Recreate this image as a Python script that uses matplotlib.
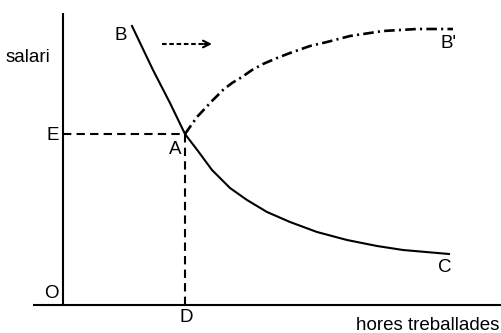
import matplotlib
matplotlib.use('Agg')
import matplotlib.pyplot as plt

# corba B-A-C (ofertа de treball inicial), coordenades de l'esquema
demand_x = [69, 90, 107, 122, 135, 149, 167, 184, 204, 227, 254, 284, 314, 340, 386]
demand_y = [279, 235, 202, 171, 154, 135, 117, 105, 93, 83, 73, 65, 59, 55, 51]

# corba A-B' (traç i punt)
shift_x = [122, 134, 149, 160, 169, 179, 189, 200, 214, 227, 247, 264, 287, 320, 354, 390]
shift_y = [171, 188, 204, 215, 222, 228, 235, 241, 247, 252, 259, 263, 269, 274, 276, 276]

point_a = (122, 171)
arrow_x = [99, 149]
arrow_y = [261, 261]

labels = ['salari', 'B', 'E', 'A', 'O', 'D', 'C', "B'", 'hores treballades']

plt.rcParams['font.family'] = ['Liberation Sans', 'DejaVu Sans']

fig = plt.figure(figsize=(5.01, 3.33), dpi=100)
ax = fig.add_axes([0, 0, 1, 1])
ax.set_xlim(-63, 438)
ax.set_ylim(-28, 305)
ax.axis('off')

lw = 1.5
# eixos
ax.plot([0, 0], [0, 292], color='black', lw=lw, solid_capstyle='butt')
ax.plot([-30, 438], [0, 0], color='black', lw=lw, solid_capstyle='butt')

# linies de referencia E-A i A-D
ax.plot([0, point_a[0]], [point_a[1], point_a[1]], color='black', lw=lw,
        linestyle=(0, (4, 2.5)))
ax.plot([point_a[0], point_a[0]], [0, point_a[1]], color='black', lw=lw,
        linestyle=(0, (4, 2.5)))

ax.plot(demand_x, demand_y, color='black', lw=lw, solid_joinstyle='round')
ax.plot(shift_x, shift_y, color='black', lw=1.9, linestyle=(0, (4, 1.6, 0.8, 1.6)))

# fletxa de desplaçament
ax.plot([arrow_x[0], arrow_x[1] - 4], arrow_y, color='black', lw=lw,
        linestyle=(0, (2.2, 1.3)))
ax.annotate('', xy=(arrow_x[1], arrow_y[1]), xytext=(arrow_x[1] - 8, arrow_y[1]),
            arrowprops=dict(arrowstyle='->', color='black', lw=lw,
                            mutation_scale=12, shrinkA=0, shrinkB=0))

fs = 13.5
ax.text(-35, 248, labels[0], fontsize=fs, ha='center', va='center')
ax.text(58, 269, labels[1], fontsize=fs, ha='center', va='center')
ax.text(-10, 170, labels[2], fontsize=fs, ha='center', va='center')
ax.text(112, 155, labels[3], fontsize=fs, ha='center', va='center')
ax.text(-12, 11, labels[4], fontsize=fs, ha='center', va='center')
ax.text(123, -13, labels[5], fontsize=fs, ha='center', va='center')
ax.text(382, 37, labels[6], fontsize=fs, ha='center', va='center')
ax.text(386, 261, labels[7], fontsize=fs, ha='center', va='center')
ax.text(436, -20, labels[8], fontsize=fs, ha='right', va='center')

fig.savefig('out.png', dpi=100, facecolor='white')
plt.close(fig)
